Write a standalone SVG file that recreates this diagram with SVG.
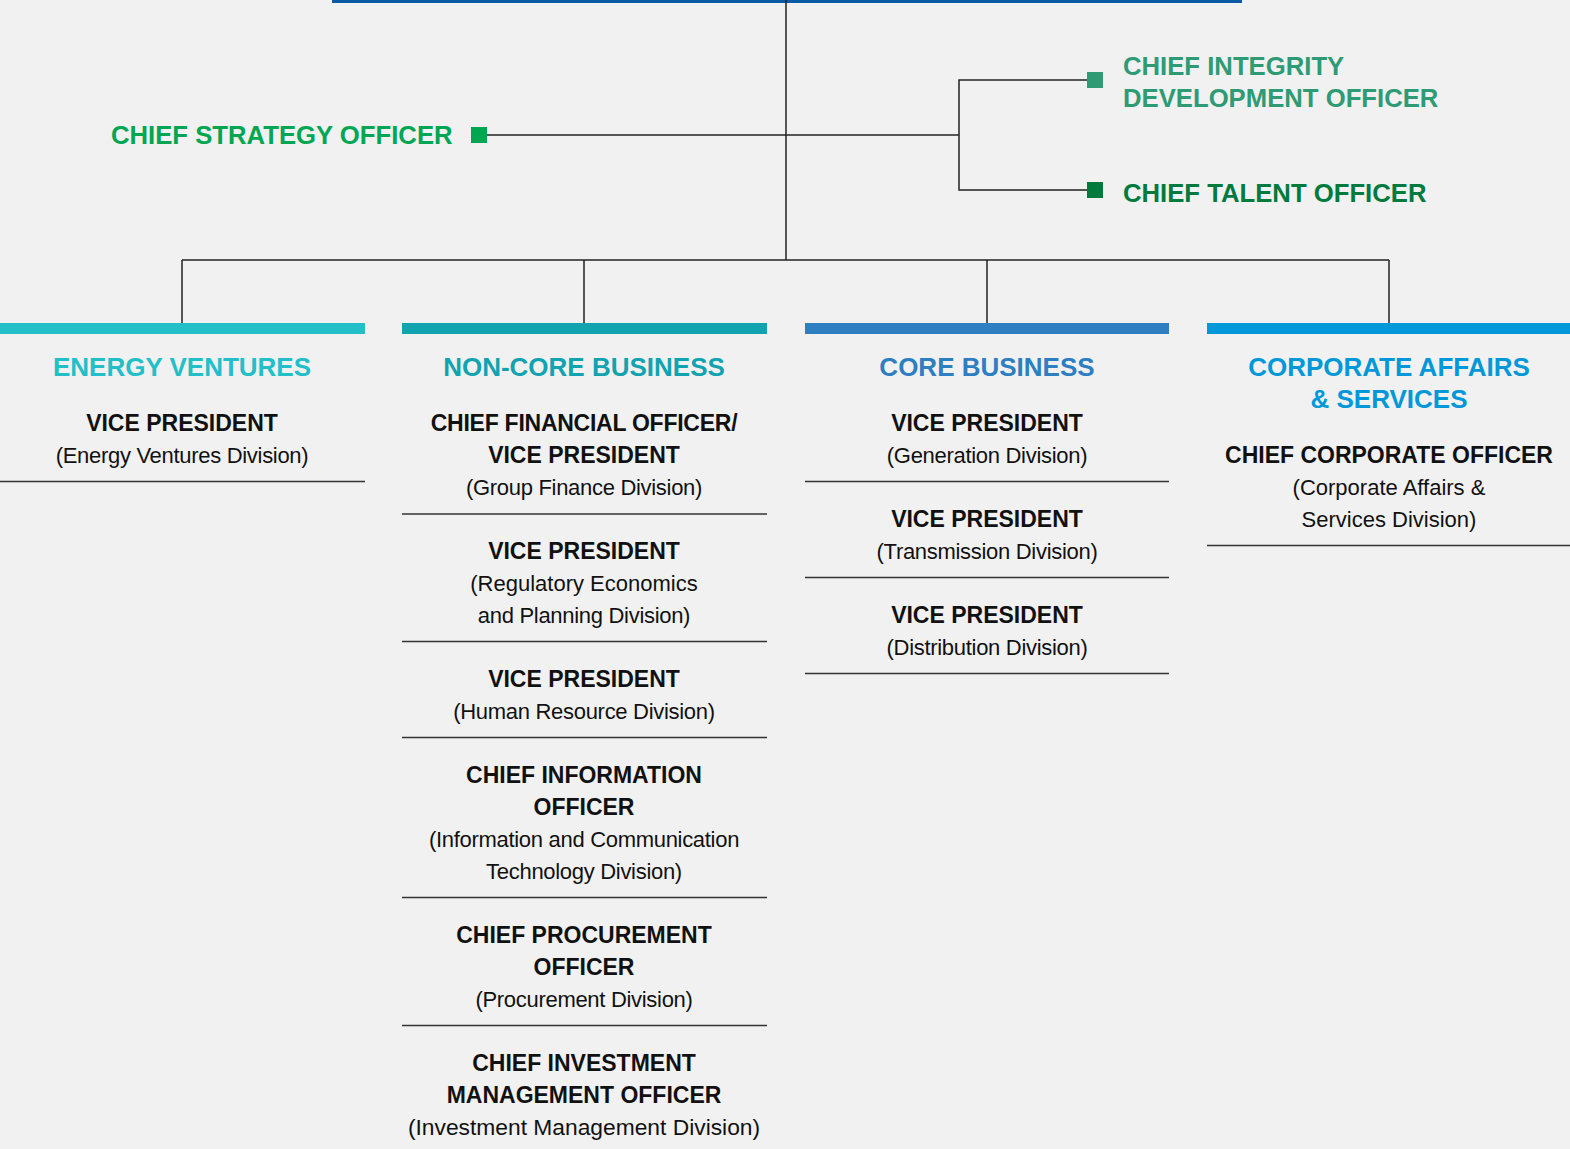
<svg xmlns="http://www.w3.org/2000/svg" width="1570" height="1149" viewBox="0 0 1570 1149">
<style>
.bg{fill:#f1f1f1}
.conn{stroke:#222;stroke-width:1.5;fill:none}
.sep{stroke:#333;stroke-width:1.5}
.co{font-family:"Liberation Sans",Arial,Helvetica,sans-serif;font-weight:bold;font-size:25.7px}
.hd{font-family:"Liberation Sans",Arial,Helvetica,sans-serif;font-weight:bold;font-size:26px;text-anchor:middle}
.t{font-family:"Liberation Sans",Arial,Helvetica,sans-serif;font-weight:bold;font-size:23px;fill:#111;text-anchor:middle}
.s{font-family:"Liberation Sans",Arial,Helvetica,sans-serif;font-size:22px;fill:#111;text-anchor:middle;letter-spacing:-0.3px}
</style>
<rect class="bg" x="0" y="0" width="1570" height="1149"/>
<g id="connectors">
<rect x="332" y="0" width="910" height="3" fill="#0b5aa5"/>
<line class="conn" x1="786" y1="0" x2="786" y2="260"/>
<line class="conn" x1="486" y1="135" x2="959" y2="135"/>
<polyline class="conn" points="1087,80 959,80 959,190 1087,190"/>
<line class="conn" x1="182" y1="260" x2="1389" y2="260"/>
<line class="conn" x1="182" y1="260" x2="182" y2="323"/>
<line class="conn" x1="584" y1="260" x2="584" y2="323"/>
<line class="conn" x1="987" y1="260" x2="987" y2="323"/>
<line class="conn" x1="1389" y1="260" x2="1389" y2="323"/>
</g>
<g id="chief-strategy-officer">
<text class="co" x="111" y="144" fill="#00a651">CHIEF STRATEGY OFFICER</text>
<rect x="471" y="127" width="16" height="16" fill="#00a651"/>
</g>
<g id="chief-integrity-development-officer">
<rect x="1087" y="72" width="16" height="16" fill="#2e9b74"/>
<text class="co" x="1123" y="75" fill="#2e9b74">CHIEF INTEGRITY</text>
<text class="co" x="1123" y="107" fill="#2e9b74">DEVELOPMENT OFFICER</text>
</g>
<g id="chief-talent-officer">
<rect x="1087" y="182" width="16" height="16" fill="#007a3d"/>
<text class="co" x="1123" y="202" fill="#007a3d">CHIEF TALENT OFFICER</text>
</g>
<g id="energy-ventures">
<rect x="0" y="323" width="365" height="11" fill="#22bfc9"/>
<text class="hd" x="182" y="376" fill="#22bfc9">ENERGY VENTURES</text>
<text class="t" x="182" y="431">VICE PRESIDENT</text>
<text class="s" x="182" y="463">(Energy Ventures Division)</text>
<line class="sep" x1="0" y1="481.5" x2="365" y2="481.5"/>
</g>
<g id="non-core-business">
<rect x="402" y="323" width="365" height="11" fill="#12a3b0"/>
<text class="hd" x="584" y="376" fill="#12a3b0">NON-CORE BUSINESS</text>
<text class="t" x="584" y="431" style="letter-spacing:-0.25px">CHIEF FINANCIAL OFFICER/</text>
<text class="t" x="584" y="463">VICE PRESIDENT</text>
<text class="s" x="584" y="495">(Group Finance Division)</text>
<line class="sep" x1="402" y1="514" x2="767" y2="514"/>
<text class="t" x="584" y="559">VICE PRESIDENT</text>
<text class="s" x="584" y="591" style="letter-spacing:0">(Regulatory Economics</text>
<text class="s" x="584" y="623">and Planning Division)</text>
<line class="sep" x1="402" y1="641.5" x2="767" y2="641.5"/>
<text class="t" x="584" y="687">VICE PRESIDENT</text>
<text class="s" x="584" y="719">(Human Resource Division)</text>
<line class="sep" x1="402" y1="737.5" x2="767" y2="737.5"/>
<text class="t" x="584" y="783">CHIEF INFORMATION</text>
<text class="t" x="584" y="815">OFFICER</text>
<text class="s" x="584" y="847">(Information and Communication</text>
<text class="s" x="584" y="879">Technology Division)</text>
<line class="sep" x1="402" y1="897.5" x2="767" y2="897.5"/>
<text class="t" x="584" y="943">CHIEF PROCUREMENT</text>
<text class="t" x="584" y="975">OFFICER</text>
<text class="s" x="584" y="1007">(Procurement Division)</text>
<line class="sep" x1="402" y1="1025.5" x2="767" y2="1025.5"/>
<text class="t" x="584" y="1071">CHIEF INVESTMENT</text>
<text class="t" x="584" y="1103">MANAGEMENT OFFICER</text>
<text class="s" x="584" y="1135" style="font-size:22.8px;letter-spacing:0">(Investment Management Division)</text>
</g>
<g id="core-business">
<rect x="805" y="323" width="364" height="11" fill="#2e7fc1"/>
<text class="hd" x="987" y="376" fill="#2e7fc1">CORE BUSINESS</text>
<text class="t" x="987" y="431">VICE PRESIDENT</text>
<text class="s" x="987" y="463">(Generation Division)</text>
<line class="sep" x1="805" y1="481.5" x2="1169" y2="481.5"/>
<text class="t" x="987" y="527">VICE PRESIDENT</text>
<text class="s" x="987" y="559">(Transmission Division)</text>
<line class="sep" x1="805" y1="577.5" x2="1169" y2="577.5"/>
<text class="t" x="987" y="623">VICE PRESIDENT</text>
<text class="s" x="987" y="655">(Distribution Division)</text>
<line class="sep" x1="805" y1="673.5" x2="1169" y2="673.5"/>
</g>
<g id="corporate-affairs-services">
<rect x="1207" y="323" width="363" height="11" fill="#0098d8"/>
<text class="hd" x="1389" y="376" fill="#0098d8">CORPORATE AFFAIRS</text>
<text class="hd" x="1389" y="408" fill="#0098d8">&amp; SERVICES</text>
<text class="t" x="1389" y="463">CHIEF CORPORATE OFFICER</text>
<text class="s" x="1389" y="495" style="letter-spacing:0">(Corporate Affairs &amp;</text>
<text class="s" x="1389" y="527" style="letter-spacing:0">Services Division)</text>
<line class="sep" x1="1207" y1="545.5" x2="1570" y2="545.5"/>
</g>
</svg>
